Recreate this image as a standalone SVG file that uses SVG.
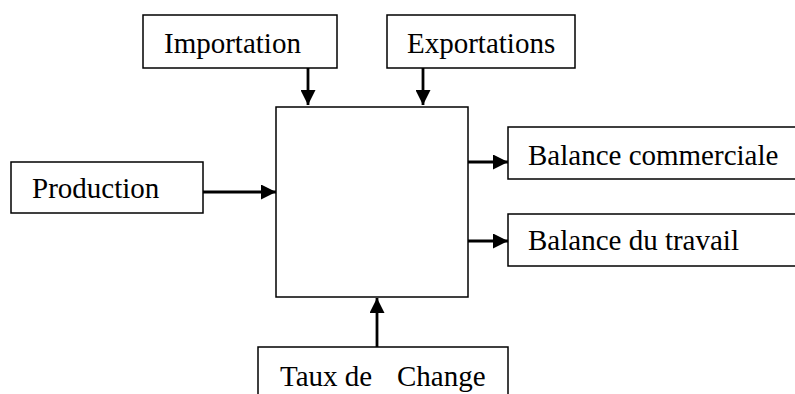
<svg xmlns="http://www.w3.org/2000/svg" width="795" height="394" viewBox="0 0 795 394">
<style>
.box{fill:#fff;stroke:#000;stroke-width:1.5}
.lbl{font-family:"Liberation Serif","Times New Roman",serif;font-size:29px;fill:#000;white-space:pre}
.conn{stroke:#000;stroke-width:2.8;fill:none}
</style>
<defs>
<marker id="ah" viewBox="0 0 15 15" refX="15" refY="7.5" markerWidth="15" markerHeight="15" markerUnits="userSpaceOnUse" orient="auto">
<path d="M0,0 L15,7.5 L0,15 Z" fill="#000"/>
</marker>
</defs>
<rect width="795" height="394" fill="#fff"/>
<g id="center"><rect class="box" x="276" y="107" width="192" height="190"/></g>
<g id="importation"><rect class="box" x="143" y="15" width="194" height="53"/><text class="lbl" x="164" y="53">Importation</text></g>
<g id="exportations"><rect class="box" x="387" y="15" width="188" height="53"/><text class="lbl" x="407" y="53">Exportations</text></g>
<g id="production"><rect class="box" x="11" y="162" width="192" height="51"/><text class="lbl" x="32" y="198">Production</text></g>
<g id="balance-commerciale"><rect class="box" x="508" y="127" width="300" height="52"/><text class="lbl" x="528" y="165">Balance commerciale</text></g>
<g id="balance-travail"><rect class="box" x="508" y="214" width="300" height="52"/><text class="lbl" x="528" y="250">Balance du travail</text></g>
<g id="taux-change"><rect class="box" x="258" y="347" width="250" height="60"/><text class="lbl" x="280" y="386">Taux de<tspan x="397">Change</tspan></text></g>
<g id="connectors">
<line class="conn" x1="308" y1="68" x2="308" y2="105" marker-end="url(#ah)"/>
<line class="conn" x1="423" y1="68" x2="423" y2="105" marker-end="url(#ah)"/>
<line class="conn" x1="203" y1="192" x2="276" y2="192" marker-end="url(#ah)"/>
<line class="conn" x1="468" y1="162" x2="508" y2="162" marker-end="url(#ah)"/>
<line class="conn" x1="468" y1="241" x2="508" y2="241" marker-end="url(#ah)"/>
<line class="conn" x1="377" y1="347" x2="377" y2="298" marker-end="url(#ah)"/>
</g>
</svg>
